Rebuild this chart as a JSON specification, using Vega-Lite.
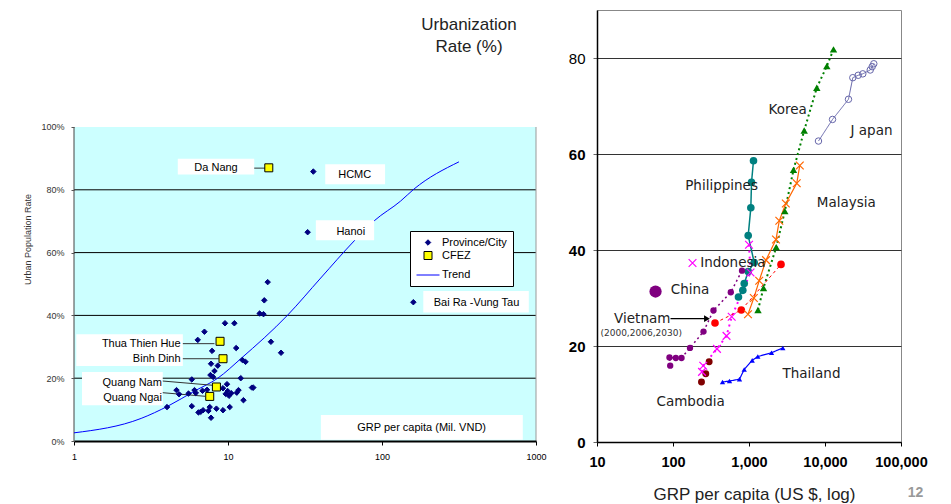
{
  "$schema": "https://vega.github.io/schema/vega-lite/v6.json",
  "autosize": {"type": "pad"},
  "padding": {"left": 23, "top": 9, "right": 0, "bottom": 0},
  "background": "white",
  "bounds": "flush",
  "spacing": 61,
  "config": {
    "view": {"stroke": null},
    "font": "Liberation Sans",
    "axis": {"labelFont": "Liberation Sans", "titleFont": "Liberation Sans"},
    "legend": {"labelFont": "Liberation Sans"}
  },
  "resolve": {
    "scale": {"fill": "independent", "stroke": "independent", "shape": "independent", "size": "independent", "color": "independent", "strokeDash": "independent", "strokeWidth": "independent"},
    "legend": {"fill": "independent", "stroke": "independent", "shape": "independent", "size": "independent", "color": "independent", "strokeDash": "independent", "strokeWidth": "independent"}
  },
  "datasets": {
    "one": [{"a": 1}],
    "prov": [
      {"x": 18.1, "y": 0.506, "kind": "Province/City"}, {"x": 17.2, "y": 0.448, "kind": "Province/City"},
      {"x": 16.05, "y": 0.406, "kind": "Province/City"}, {"x": 17.0, "y": 0.404, "kind": "Province/City"},
      {"x": 9.56, "y": 0.375, "kind": "Province/City"}, {"x": 11.0, "y": 0.375, "kind": "Province/City"},
      {"x": 7.03, "y": 0.348, "kind": "Province/City"}, {"x": 6.36, "y": 0.322, "kind": "Province/City"},
      {"x": 19.0, "y": 0.316, "kind": "Province/City"}, {"x": 7.88, "y": 0.287, "kind": "Province/City"},
      {"x": 11.3, "y": 0.296, "kind": "Province/City"}, {"x": 22.1, "y": 0.281, "kind": "Province/City"},
      {"x": 7.76, "y": 0.246, "kind": "Province/City"}, {"x": 8.58, "y": 0.240, "kind": "Province/City"},
      {"x": 12.4, "y": 0.258, "kind": "Province/City"}, {"x": 13.0, "y": 0.252, "kind": "Province/City"},
      {"x": 8.17, "y": 0.223, "kind": "Province/City"}, {"x": 7.69, "y": 0.210, "kind": "Province/City"},
      {"x": 8.0, "y": 0.204, "kind": "Province/City"}, {"x": 5.82, "y": 0.196, "kind": "Province/City"},
      {"x": 12.1, "y": 0.200, "kind": "Province/City"}, {"x": 9.85, "y": 0.181, "kind": "Province/City"},
      {"x": 4.63, "y": 0.162, "kind": "Province/City"}, {"x": 4.81, "y": 0.149, "kind": "Province/City"},
      {"x": 5.54, "y": 0.151, "kind": "Province/City"}, {"x": 6.06, "y": 0.162, "kind": "Province/City"},
      {"x": 6.18, "y": 0.153, "kind": "Province/City"}, {"x": 6.83, "y": 0.160, "kind": "Province/City"},
      {"x": 7.31, "y": 0.163, "kind": "Province/City"}, {"x": 9.28, "y": 0.168, "kind": "Province/City"},
      {"x": 9.66, "y": 0.150, "kind": "Province/City"}, {"x": 10.15, "y": 0.144, "kind": "Province/City"},
      {"x": 10.5, "y": 0.152, "kind": "Province/City"}, {"x": 9.95, "y": 0.159, "kind": "Province/City"},
      {"x": 11.7, "y": 0.162, "kind": "Province/City"}, {"x": 11.4, "y": 0.154, "kind": "Province/City"},
      {"x": 14.3, "y": 0.170, "kind": "Province/City"}, {"x": 14.6, "y": 0.170, "kind": "Province/City"},
      {"x": 12.6, "y": 0.130, "kind": "Province/City"}, {"x": 4.02, "y": 0.108, "kind": "Province/City"},
      {"x": 5.82, "y": 0.111, "kind": "Province/City"}, {"x": 7.61, "y": 0.108, "kind": "Province/City"},
      {"x": 8.41, "y": 0.103, "kind": "Province/City"}, {"x": 9.28, "y": 0.098, "kind": "Province/City"},
      {"x": 10.26, "y": 0.108, "kind": "Province/City"}, {"x": 6.43, "y": 0.091, "kind": "Province/City"},
      {"x": 6.89, "y": 0.098, "kind": "Province/City"}, {"x": 6.65, "y": 0.093, "kind": "Province/City"},
      {"x": 7.46, "y": 0.096, "kind": "Province/City"}, {"x": 7.76, "y": 0.074, "kind": "Province/City"},
      {"x": 35.8, "y": 0.858, "kind": "Province/City"}, {"x": 32.9, "y": 0.665, "kind": "Province/City"},
      {"x": 159.8, "y": 0.442, "kind": "Province/City"}
    ],
    "cfez": [
      {"x": 18.4, "y": 0.870, "kind": "CFEZ"}, {"x": 8.88, "y": 0.3175, "kind": "CFEZ"},
      {"x": 9.28, "y": 0.262, "kind": "CFEZ"}, {"x": 8.41, "y": 0.172, "kind": "CFEZ"},
      {"x": 7.61, "y": 0.142, "kind": "CFEZ"}
    ],
    "trend": [
      {"x": 1, "y": 0.026, "kind": "Trend"}, {"x": 2.73, "y": 0.072, "kind": "Trend"},
      {"x": 4.07, "y": 0.111, "kind": "Trend"}, {"x": 6.06, "y": 0.159, "kind": "Trend"},
      {"x": 8.58, "y": 0.200, "kind": "Trend"}, {"x": 12.1, "y": 0.262, "kind": "Trend"},
      {"x": 24.4, "y": 0.401, "kind": "Trend"},
      {"x": 40, "y": 0.519, "kind": "Trend"}, {"x": 65.9, "y": 0.637, "kind": "Trend"},
      {"x": 88.9, "y": 0.701, "kind": "Trend"}, {"x": 132, "y": 0.764, "kind": "Trend"},
      {"x": 161, "y": 0.802, "kind": "Trend"}, {"x": 316, "y": 0.889, "kind": "Trend"}
    ],
    "grid": [{"y": 0.2}, {"y": 0.4}, {"y": 0.6}, {"y": 0.8}],
    "lbox": [
      {"x": 4.72, "x2": 14.8, "y": 0.849, "y2": 0.899},
      {"x": 42.8, "x2": 104.7, "y": 0.8175, "y2": 0.881},
      {"x": 37.2, "x2": 88.9, "y": 0.639, "y2": 0.703},
      {"x": 185.4, "x2": 898, "y": 0.409, "y2": 0.478},
      {"x": 1.035, "x2": 5.09, "y": 0.239, "y2": 0.340},
      {"x": 1.127, "x2": 3.77, "y": 0.1137, "y2": 0.2197},
      {"x": 40.1, "x2": 821, "y": 0.004, "y2": 0.0828}
    ],
    "lconn": [
      {"x": 14.8, "x2": 17.6, "y": 0.869, "y2": 0.869},
      {"x": 5.09, "x2": 8.17, "y": 0.310, "y2": 0.310},
      {"x": 5.09, "x2": 8.71, "y": 0.262, "y2": 0.262},
      {"x": 3.77, "x2": 7.96, "y": 0.191, "y2": 0.1774},
      {"x": 3.77, "x2": 7.10, "y": 0.1538, "y2": 0.1424}
    ],
    "ltc": [
      {"x": 8.36, "y": 0.868, "label": "Da Nang"},
      {"x": 66.5, "y": 0.846, "label": "HCMC"},
      {"x": 62.7, "y": 0.666, "label": "Hanoi"},
      {"x": 411, "y": 0.440, "label": "Bai Ra -Vung Tau"},
      {"x": 180.8, "y": 0.0404, "label": "GRP per capita (Mil. VND)"}
    ],
    "ltr": [
      {"x": 4.92, "y": 0.310, "label": "Thua Thien Hue"},
      {"x": 4.92, "y": 0.262, "label": "Binh Dinh"},
      {"x": 3.72, "y": 0.1857, "label": "Quang Nam"},
      {"x": 3.72, "y": 0.136, "label": "Quang Ngai"}
    ],
    "series": [
      {"country": "Japan", "ord": 1, "gdp": 8205, "urban": 62.7},
      {"country": "Japan", "ord": 2, "gdp": 12560, "urban": 67.2},
      {"country": "Japan", "ord": 3, "gdp": 20370, "urban": 71.4},
      {"country": "Japan", "ord": 4, "gdp": 23220, "urban": 75.9},
      {"country": "Japan", "ord": 5, "gdp": 27350, "urban": 76.4},
      {"country": "Japan", "ord": 6, "gdp": 31410, "urban": 76.7},
      {"country": "Japan", "ord": 7, "gdp": 39360, "urban": 77.5},
      {"country": "Japan", "ord": 8, "gdp": 41800, "urban": 78.2},
      {"country": "Japan", "ord": 9, "gdp": 43870, "urban": 78.8},
      {"country": "Korea", "ord": 1, "gdp": 1313, "urban": 27.5},
      {"country": "Korea", "ord": 2, "gdp": 1552, "urban": 32.1},
      {"country": "Korea", "ord": 3, "gdp": 2280, "urban": 40.6},
      {"country": "Korea", "ord": 4, "gdp": 2960, "urban": 48.1},
      {"country": "Korea", "ord": 5, "gdp": 3850, "urban": 56.7},
      {"country": "Korea", "ord": 6, "gdp": 5325, "urban": 64.9},
      {"country": "Korea", "ord": 7, "gdp": 7800, "urban": 73.8},
      {"country": "Korea", "ord": 8, "gdp": 10560, "urban": 78.3},
      {"country": "Korea", "ord": 9, "gdp": 12940, "urban": 81.8},
      {"country": "Malaysia", "ord": 1, "gdp": 970, "urban": 26.6},
      {"country": "Malaysia", "ord": 2, "gdp": 1157, "urban": 30.0},
      {"country": "Malaysia", "ord": 3, "gdp": 1362, "urban": 33.6},
      {"country": "Malaysia", "ord": 4, "gdp": 1674, "urban": 37.9},
      {"country": "Malaysia", "ord": 5, "gdp": 2265, "urban": 42.2},
      {"country": "Malaysia", "ord": 6, "gdp": 2505, "urban": 46.1},
      {"country": "Malaysia", "ord": 7, "gdp": 3050, "urban": 49.7},
      {"country": "Malaysia", "ord": 8, "gdp": 4245, "urban": 53.9},
      {"country": "Malaysia", "ord": 9, "gdp": 4660, "urban": 57.6},
      {"country": "Philippines", "ord": 1, "gdp": 727, "urban": 30.2},
      {"country": "Philippines", "ord": 2, "gdp": 829, "urban": 31.6},
      {"country": "Philippines", "ord": 3, "gdp": 865, "urban": 33.0},
      {"country": "Philippines", "ord": 4, "gdp": 976, "urban": 35.5},
      {"country": "Philippines", "ord": 5, "gdp": 1171, "urban": 37.4},
      {"country": "Philippines", "ord": 6, "gdp": 976, "urban": 43.0},
      {"country": "Philippines", "ord": 7, "gdp": 1057, "urban": 48.8},
      {"country": "Philippines", "ord": 8, "gdp": 1079, "urban": 54.1},
      {"country": "Philippines", "ord": 9, "gdp": 1146, "urban": 58.6},
      {"country": "Indonesia", "ord": 1, "gdp": 241, "urban": 14.6},
      {"country": "Indonesia", "ord": 2, "gdp": 250, "urban": 15.9},
      {"country": "Indonesia", "ord": 3, "gdp": 379, "urban": 19.4},
      {"country": "Indonesia", "ord": 4, "gdp": 506, "urban": 22.1},
      {"country": "Indonesia", "ord": 5, "gdp": 592, "urban": 26.1},
      {"country": "Indonesia", "ord": 6, "gdp": 1047, "urban": 35.3},
      {"country": "Indonesia", "ord": 7, "gdp": 1000, "urban": 41.1},
      {"country": "China", "ord": 1, "gdp": 91.9, "urban": 15.9},
      {"country": "China", "ord": 2, "gdp": 89.9, "urban": 17.6},
      {"country": "China", "ord": 3, "gdp": 108.9, "urban": 17.5},
      {"country": "China", "ord": 4, "gdp": 129.4, "urban": 17.5},
      {"country": "China", "ord": 5, "gdp": 167.4, "urban": 19.6},
      {"country": "China", "ord": 6, "gdp": 252, "urban": 23.0},
      {"country": "China", "ord": 7, "gdp": 341, "urban": 27.4},
      {"country": "China", "ord": 8, "gdp": 576, "urban": 31.2},
      {"country": "China", "ord": 9, "gdp": 809, "urban": 35.7},
      {"country": "Vietnam", "ord": 1, "gdp": 357, "urban": 24.8},
      {"country": "Vietnam", "ord": 2, "gdp": 792, "urban": 27.5},
      {"country": "Vietnam", "ord": 3, "gdp": 2637, "urban": 37.0},
      {"country": "Cambodia", "ord": 1, "gdp": 237, "urban": 12.5},
      {"country": "Cambodia", "ord": 2, "gdp": 270, "urban": 14.2},
      {"country": "Cambodia", "ord": 3, "gdp": 299, "urban": 16.7},
      {"country": "Thailand", "ord": 1, "gdp": 448, "urban": 12.5},
      {"country": "Thailand", "ord": 2, "gdp": 554, "urban": 12.7},
      {"country": "Thailand", "ord": 3, "gdp": 750, "urban": 13.1},
      {"country": "Thailand", "ord": 4, "gdp": 865, "urban": 15.1},
      {"country": "Thailand", "ord": 5, "gdp": 1102, "urban": 17.0},
      {"country": "Thailand", "ord": 6, "gdp": 1306, "urban": 17.8},
      {"country": "Thailand", "ord": 7, "gdp": 1977, "urban": 18.6},
      {"country": "Thailand", "ord": 8, "gdp": 2786, "urban": 19.6}
    ],
    "rlabels": [
      {"gdp": 1807, "urban": 69.1, "label": "Korea"},
      {"gdp": 21680, "urban": 64.7, "label": "J apan"},
      {"gdp": 144.7, "urban": 53.4, "label": "Philippines"},
      {"gdp": 7800, "urban": 49.75, "label": "Malaysia"},
      {"gdp": 228, "urban": 37.25, "label": "Indonesia"},
      {"gdp": 93.5, "urban": 31.6, "label": "China"},
      {"gdp": 16.8, "urban": 25.7, "label": "Vietnam"},
      {"gdp": 2761, "urban": 14.2, "label": "Thailand"},
      {"gdp": 60.7, "urban": 8.3, "label": "Cambodia"}
    ]
  },
  "hconcat": [
    {
      "width": 462,
      "height": 431,
      "view": {"stroke": null},
      "layer": [
        {
          "data": {"name": "one"},
          "mark": {"type": "rect", "fill": "#CCFFFF"},
          "encoding": {
            "x": {"datum": 1, "type": "quantitative",
              "scale": {"type": "log", "domain": [1, 1000], "nice": false},
              "axis": {"values": [1, 10, 100, 1000], "format": "d", "title": null, "labelFontSize": 9, "labelColor": "#000", "labelFlush": false, "labelPadding": 7, "domainColor": "#000", "domainWidth": 2, "tickColor": "#000", "tickSize": 4, "grid": false, "zindex": 1}},
            "x2": {"datum": 1000},
            "y": {"datum": 0, "type": "quantitative",
              "scale": {"domain": [0, 1.3726], "nice": false, "zero": false},
              "axis": {"values": [0, 0.2, 0.4, 0.6, 0.8, 1], "format": ".0%", "labelFontSize": 9, "labelColor": "#333", "labelPadding": 7, "domain": false, "tickSize": 3, "tickColor": "#555", "grid": false, "zindex": 1,
                "title": "Urban Population Rate", "titleFontSize": 9, "titleFontWeight": "normal", "titleColor": "#333", "titleX": -44, "titleY": 229, "titleAngle": 270, "titleBaseline": "alphabetic", "titleAlign": "center"}},
            "y2": {"datum": 1}
          }
        },
        {
          "data": {"name": "grid"},
          "mark": {"type": "rule", "color": "#000", "strokeWidth": 1},
          "encoding": {"y": {"field": "y", "type": "quantitative"}}
        },
        {
          "data": {"name": "one"},
          "mark": {"type": "rule", "color": "#444", "strokeWidth": 1},
          "encoding": {"x": {"datum": 1, "type": "quantitative"}, "y": {"datum": 0, "type": "quantitative"}, "y2": {"datum": 1}}
        },
        {
          "data": {"name": "one"},
          "mark": {"type": "rule", "color": "#999", "strokeWidth": 1},
          "encoding": {"x": {"datum": 1000, "type": "quantitative"}, "y": {"datum": 0, "type": "quantitative"}, "y2": {"datum": 1}}
        },
        {
          "data": {"name": "trend"},
          "mark": {"type": "line", "strokeWidth": 1, "interpolate": "monotone"},
          "encoding": {
            "x": {"field": "x", "type": "quantitative"},
            "y": {"field": "y", "type": "quantitative"},
            "stroke": {"field": "kind", "type": "nominal", "scale": {"domain": ["Province/City", "CFEZ", "Trend"], "range": ["#000080", "#000000", "#0000FF"]}, "legend": {"title": null, "orient": "none", "legendX": 336, "legendY": 221, "fillColor": "white", "strokeColor": "#000", "padding": 6, "labelFontSize": 11, "labelColor": "#000", "rowPadding": 1, "symbolStrokeWidth": 1, "symbolOpacity": 1, "labelOffset": 2}}
          }
        },
        {
          "data": {"name": "lbox"},
          "mark": {"type": "rect", "fill": "white"},
          "encoding": {
            "x": {"field": "x", "type": "quantitative"}, "x2": {"field": "x2"},
            "y": {"field": "y", "type": "quantitative"}, "y2": {"field": "y2"}
          }
        },
        {
          "data": {"name": "lconn"},
          "mark": {"type": "rule", "color": "#333", "strokeWidth": 1},
          "encoding": {
            "x": {"field": "x", "type": "quantitative"}, "x2": {"field": "x2"},
            "y": {"field": "y", "type": "quantitative"}, "y2": {"field": "y2"}
          }
        },
        {
          "data": {"name": "prov"},
          "mark": {"type": "point", "filled": true, "opacity": 1, "strokeWidth": 1},
          "encoding": {
            "x": {"field": "x", "type": "quantitative"},
            "y": {"field": "y", "type": "quantitative"},
            "fill": {"field": "kind", "type": "nominal", "scale": {"domain": ["Province/City", "CFEZ", "Trend"], "range": ["#000080", "#FFFF00", "transparent"]}, "legend": {"title": null, "orient": "none", "legendX": 336, "legendY": 221, "fillColor": "white", "strokeColor": "#000", "padding": 6, "labelFontSize": 11, "labelColor": "#000", "rowPadding": 1, "symbolStrokeWidth": 1, "symbolOpacity": 1, "labelOffset": 2}},
            "stroke": {"field": "kind", "type": "nominal", "scale": {"domain": ["Province/City", "CFEZ", "Trend"], "range": ["#000080", "#000000", "#0000FF"]}},
            "shape": {"field": "kind", "type": "nominal", "scale": {"domain": ["Province/City", "CFEZ", "Trend"], "range": ["diamond", "square", "stroke"]}},
            "size": {"field": "kind", "type": "ordinal", "scale": {"type": "ordinal", "domain": ["Province/City", "CFEZ", "Trend"], "range": [30, 64, 529]}}
          }
        },
        {
          "data": {"name": "cfez"},
          "mark": {"type": "point", "filled": true, "opacity": 1, "strokeWidth": 1},
          "encoding": {
            "x": {"field": "x", "type": "quantitative"},
            "y": {"field": "y", "type": "quantitative"},
            "fill": {"field": "kind", "type": "nominal", "scale": {"domain": ["Province/City", "CFEZ", "Trend"], "range": ["#000080", "#FFFF00", "transparent"]}},
            "stroke": {"field": "kind", "type": "nominal", "scale": {"domain": ["Province/City", "CFEZ", "Trend"], "range": ["#000080", "#000000", "#0000FF"]}},
            "shape": {"field": "kind", "type": "nominal", "scale": {"domain": ["Province/City", "CFEZ", "Trend"], "range": ["diamond", "square", "stroke"]}},
            "size": {"field": "kind", "type": "ordinal", "scale": {"type": "ordinal", "domain": ["Province/City", "CFEZ", "Trend"], "range": [30, 64, 529]}}
          }
        },
        {
          "data": {"name": "ltc"},
          "mark": {"type": "text", "fontSize": 11, "align": "center", "baseline": "middle", "font": "Liberation Sans", "color": "#000"},
          "encoding": {"x": {"field": "x", "type": "quantitative"}, "y": {"field": "y", "type": "quantitative"}, "text": {"field": "label"}}
        },
        {
          "data": {"name": "ltr"},
          "mark": {"type": "text", "fontSize": 11, "align": "right", "baseline": "middle", "font": "Liberation Sans", "color": "#000"},
          "encoding": {"x": {"field": "x", "type": "quantitative"}, "y": {"field": "y", "type": "quantitative"}, "text": {"field": "label"}}
        }
      ]
    },
    {
      "width": 304,
      "height": 432,
      "view": {"stroke": "#888", "strokeWidth": 1},
      "layer": [
        {
          "data": {"name": "series"},
          "transform": [{"filter": "datum.country !== 'Cambodia'"}],
          "mark": {"type": "line"},
          "encoding": {
            "x": {"field": "gdp", "type": "quantitative",
              "scale": {"type": "log", "domain": [10, 100000], "nice": false},
              "axis": {"values": [10, 100, 1000, 10000, 100000], "format": ",", "labelFontSize": 14.5, "labelFontWeight": "bold", "labelColor": "#000", "labelFlush": false, "labelPadding": 9, "domainColor": "#000", "domainWidth": 1.5, "tickColor": "#000", "tickSize": 4, "grid": false, "zindex": 1,
                "title": "GRP per capita (US $, log)", "titleFontSize": 17, "titleFontWeight": "normal", "titleColor": "#222", "titleBaseline": "middle", "titleY": 52.5, "titleX": 157}},
            "y": {"field": "urban", "type": "quantitative",
              "scale": {"domain": [0, 90], "nice": false},
              "axis": {"values": [0, 20, 40, 60, 80], "labelFontSize": 15, "labelFontWeight": {"condition": {"test": "datum.value == 80", "value": "normal"}, "value": "bold"}, "labelColor": "#000", "labelPadding": 8, "domainColor": "#000", "domainWidth": 1.5, "tickColor": "#666", "tickSize": 4, "grid": true, "gridColor": "#333", "gridWidth": 1,
                "title": ["Urbanization", "Rate (%)"], "titleAngle": 0, "titleAlign": "center", "titleBaseline": "top", "titleX": -128.5, "titleY": 6, "titleFontSize": 17, "titleFontWeight": "normal", "titleColor": "#222", "titleLineHeight": 22}},
            "color": {"field": "country", "type": "nominal", "legend": null,
              "scale": {"domain": ["Japan", "Korea", "Malaysia", "Philippines", "Indonesia", "China", "Vietnam", "Cambodia", "Thailand"],
                        "range": ["#6666AA", "#008000", "#FF6600", "#008080", "#FF00FF", "#800080", "#FF0000", "#800000", "#0000FF"]}},
            "strokeDash": {"field": "country", "type": "nominal", "legend": null,
              "scale": {"domain": ["Japan", "Korea", "Malaysia", "Philippines", "Indonesia", "China", "Vietnam", "Cambodia", "Thailand"],
                        "range": [[1, 0], [2, 3], [1, 0], [1, 0], [2, 4], [2, 3], [3, 3], [1, 0], [1, 0]]}},
            "strokeWidth": {"field": "country", "type": "ordinal", "legend": null,
              "scale": {"type": "ordinal", "domain": ["Japan", "Korea", "Malaysia", "Philippines", "Indonesia", "China", "Vietnam", "Cambodia", "Thailand"],
                        "range": [1, 2, 1.2, 1.5, 2, 1.5, 1, 1, 1.2]}},
            "order": {"field": "ord", "type": "quantitative"}
          }
        },
        {
          "data": {"name": "series"},
          "transform": [{"filter": {"field": "country", "oneOf": ["Philippines", "China", "Vietnam", "Cambodia"]}}],
          "mark": {"type": "point", "shape": "circle", "filled": true, "opacity": 1},
          "encoding": {
            "x": {"field": "gdp", "type": "quantitative"},
            "y": {"field": "urban", "type": "quantitative"},
            "color": {"field": "country", "type": "nominal", "legend": null,
              "scale": {"domain": ["Japan", "Korea", "Malaysia", "Philippines", "Indonesia", "China", "Vietnam", "Cambodia", "Thailand"],
                        "range": ["#6666AA", "#008000", "#FF6600", "#008080", "#FF00FF", "#800080", "#FF0000", "#800000", "#0000FF"]}},
            "size": {"field": "country", "type": "ordinal", "legend": null,
              "scale": {"type": "ordinal", "domain": ["Japan", "Korea", "Malaysia", "Philippines", "Indonesia", "China", "Vietnam", "Cambodia", "Thailand"],
                        "range": [42, 55, 60, 58, 60, 40, 58, 48, 28]}}
          }
        },
        {
          "data": {"name": "series"},
          "transform": [{"filter": "datum.country === 'Japan'"}],
          "mark": {"type": "point", "shape": "circle", "filled": false, "opacity": 1, "strokeWidth": 1, "size": 42, "color": "#6666AA"},
          "encoding": {
            "x": {"field": "gdp", "type": "quantitative"},
            "y": {"field": "urban", "type": "quantitative"}
          }
        },
        {
          "data": {"name": "series"},
          "transform": [{"filter": {"field": "country", "oneOf": ["Malaysia", "Indonesia"]}}],
          "mark": {"type": "point", "shape": "M-1,-1L1,1M-1,1L1,-1", "filled": false, "opacity": 1, "strokeWidth": 1.2, "size": 60},
          "encoding": {
            "x": {"field": "gdp", "type": "quantitative"},
            "y": {"field": "urban", "type": "quantitative"},
            "color": {"field": "country", "type": "nominal", "legend": null,
              "scale": {"domain": ["Japan", "Korea", "Malaysia", "Philippines", "Indonesia", "China", "Vietnam", "Cambodia", "Thailand"],
                        "range": ["#6666AA", "#008000", "#FF6600", "#008080", "#FF00FF", "#800080", "#FF0000", "#800000", "#0000FF"]}}
          }
        },
        {
          "data": {"name": "series"},
          "transform": [{"filter": {"field": "country", "oneOf": ["Korea", "Thailand"]}}],
          "mark": {"type": "point", "shape": "triangle-up", "filled": true, "opacity": 1},
          "encoding": {
            "x": {"field": "gdp", "type": "quantitative"},
            "y": {"field": "urban", "type": "quantitative"},
            "color": {"field": "country", "type": "nominal", "legend": null,
              "scale": {"domain": ["Japan", "Korea", "Malaysia", "Philippines", "Indonesia", "China", "Vietnam", "Cambodia", "Thailand"],
                        "range": ["#6666AA", "#008000", "#FF6600", "#008080", "#FF00FF", "#800080", "#FF0000", "#800000", "#0000FF"]}},
            "size": {"field": "country", "type": "ordinal", "legend": null,
              "scale": {"type": "ordinal", "domain": ["Japan", "Korea", "Malaysia", "Philippines", "Indonesia", "China", "Vietnam", "Cambodia", "Thailand"],
                        "range": [42, 55, 60, 58, 60, 40, 58, 48, 28]}}
          }
        },
        {
          "data": {"values": [{"gdp": 58.9, "urban": 31.35}]},
          "mark": {"type": "point", "shape": "circle", "filled": true, "opacity": 1, "size": 150, "color": "#800080"},
          "encoding": {"x": {"field": "gdp", "type": "quantitative"}, "y": {"field": "urban", "type": "quantitative"}}
        },
        {
          "data": {"values": [{"gdp": 180.6, "urban": 37.3}]},
          "mark": {"type": "point", "shape": "M-1,-1L1,1M-1,1L1,-1", "filled": false, "opacity": 1, "strokeWidth": 1.2, "size": 60, "color": "#FF00FF"},
          "encoding": {"x": {"field": "gdp", "type": "quantitative"}, "y": {"field": "urban", "type": "quantitative"}}
        },
        {
          "data": {"values": [{"gdp": 92.7, "gdp2": 290, "urban": 25.7}]},
          "mark": {"type": "rule", "color": "#000", "strokeWidth": 1.2},
          "encoding": {"x": {"field": "gdp", "type": "quantitative"}, "x2": {"field": "gdp2"}, "y": {"field": "urban", "type": "quantitative"}}
        },
        {
          "data": {"values": [{"gdp": 280, "urban": 25.7}]},
          "mark": {"type": "point", "shape": "triangle-right", "filled": true, "opacity": 1, "size": 45, "color": "#000"},
          "encoding": {"x": {"field": "gdp", "type": "quantitative"}, "y": {"field": "urban", "type": "quantitative"}}
        },
        {
          "data": {"name": "rlabels"},
          "mark": {"type": "text", "font": "DejaVu Sans", "fontSize": 13.5, "align": "left", "baseline": "middle", "color": "#222"},
          "encoding": {"x": {"field": "gdp", "type": "quantitative"}, "y": {"field": "urban", "type": "quantitative"}, "text": {"field": "label"}}
        },
        {
          "data": {"values": [{"gdp": 11.1, "urban": 22.75, "label": "(2000,2006,2030)"}]},
          "mark": {"type": "text", "font": "DejaVu Sans", "fontSize": 9, "align": "left", "baseline": "middle", "color": "#333"},
          "encoding": {"x": {"field": "gdp", "type": "quantitative"}, "y": {"field": "urban", "type": "quantitative"}, "text": {"field": "label"}}
        },
        {
          "data": {"values": [{"gdp": 155300, "urban": -10.7, "label": "12"}]},
          "mark": {"type": "text", "font": "Liberation Sans", "fontSize": 14, "fontWeight": "bold", "align": "center", "baseline": "middle", "color": "#999"},
          "encoding": {"x": {"field": "gdp", "type": "quantitative"}, "y": {"field": "urban", "type": "quantitative"}, "text": {"field": "label"}}
        }
      ]
    }
  ]
}
